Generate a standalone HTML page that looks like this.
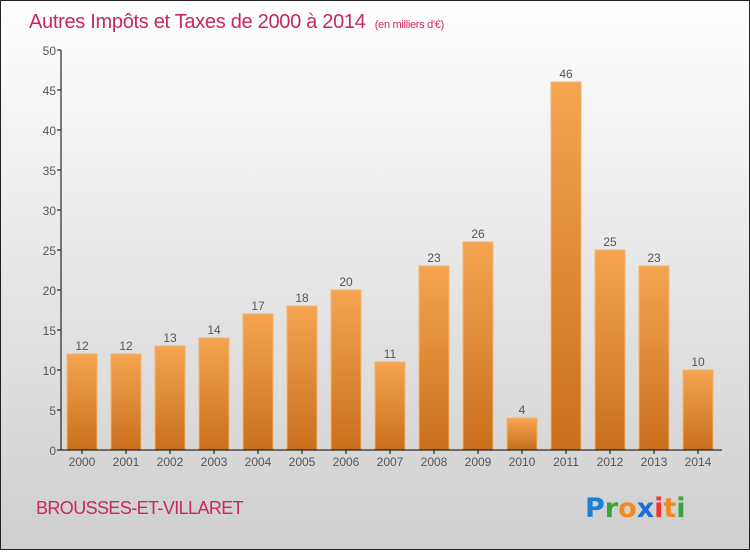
<!DOCTYPE html>
<html><head><meta charset="utf-8"><style>
html,body{margin:0;padding:0;}
body{width:750px;height:550px;overflow:hidden;font-family:"Liberation Sans",sans-serif;}
#wrap{position:absolute;left:0;top:0;width:748px;height:548px;border:1px solid #222;background:linear-gradient(#ffffff,#f0f0f0 30%,#cfcfcf);}
</style></head><body>
<div id="wrap">
<svg id="chart" width="748" height="548">
<defs><linearGradient id="bg" x1="0" y1="0" x2="0" y2="1"><stop offset="0" stop-color="#f5a552"/><stop offset="1" stop-color="#c96f1c"/></linearGradient></defs>
<text x="28" y="27" font-size="20" letter-spacing="-0.3" fill="#c8285a">Autres Impôts et Taxes de 2000 à 2014 <tspan font-size="11" dx="4">(en milliers d'€)</tspan></text>
<text x="35" y="513" font-size="18" letter-spacing="-0.6" fill="#c8285a">BROUSSES-ET-VILLARET</text>
<g font-size="27" font-weight="bold" font-family="'DejaVu Sans',sans-serif">
<text x="584" y="516" fill="#1a7fd6">P<tspan fill="#3aa33a">r</tspan><tspan fill="#f08a1c">o</tspan><tspan fill="#1a6fd0">x</tspan><tspan fill="#e33">i</tspan><tspan fill="#f08a1c">t</tspan><tspan fill="#3aa33a">i</tspan></text>
</g>
<g id="plot"></g>
</svg>
</div>
<script>
const years=["2000","2001","2002","2003","2004","2005","2006","2007","2008","2009","2010","2011","2012","2013","2014"];
const values=[12,12,13,14,17,18,20,11,23,26,4,46,25,23,10];
const yTicks=[0,5,10,15,20,25,30,35,40,45,50];
const ns="http://www.w3.org/2000/svg";
const g=document.getElementById('plot');
const y0=449,yMax=50,pxPerUnit=8;
const ys=v=>y0-v*pxPerUnit;
const xs=i=>81+i*44;
function el(t,a){const e=document.createElementNS(ns,t);for(const k in a)e.setAttribute(k,a[k]);g.appendChild(e);return e;}
yTicks.forEach(t=>{
 const l=el('line',{x1:56,x2:60,y1:ys(t),y2:ys(t),stroke:'#000'});
 
 
 const tx=el('text',{x:55,y:ys(t)+5,'text-anchor':'end','font-size':12,fill:'#555'});
 tx.textContent=t;
 
 
});
values.forEach((v,i)=>{
 const r=el('rect',{x:xs(i)-15,y:ys(v),width:30,height:v*pxPerUnit,fill:'url(#bg)',stroke:'#f7b36a','stroke-width':1});
 
 
 const lb=el('text',{x:xs(i),y:ys(v)-4,'text-anchor':'middle','font-size':12,fill:'#555'});
 lb.textContent=v;
 
 
 const tk=el('line',{x1:xs(i),x2:xs(i),y1:y0,y2:y0+4,stroke:'#000'});
 
 
 const xl=el('text',{x:xs(i),y:y0+16,'text-anchor':'middle','font-size':12,fill:'#555'});
 xl.textContent=years[i];
 
 
});
const ya=el('line',{x1:60,x2:60,y1:ys(yMax),y2:y0,stroke:'#000'});


const xa=el('line',{x1:60,x2:721,y1:y0,y2:y0,stroke:'#000'});


</script>
</body></html>
